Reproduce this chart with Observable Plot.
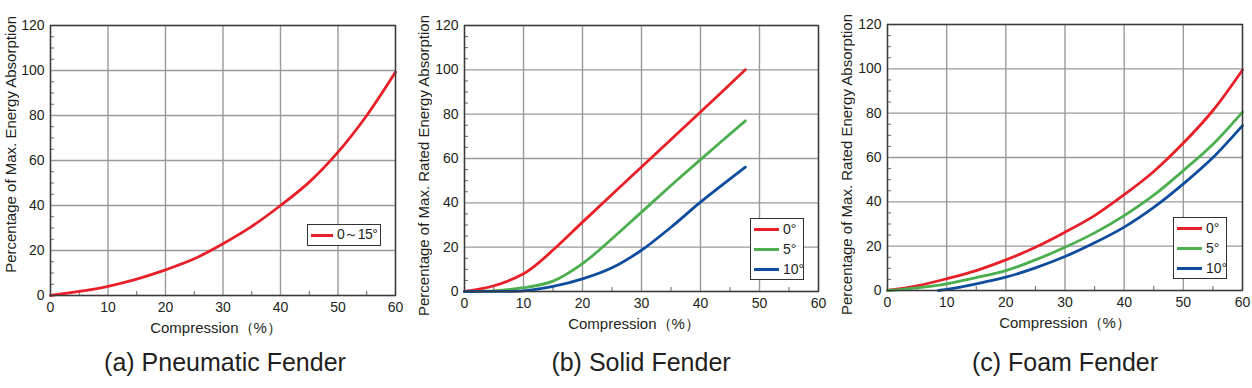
<!DOCTYPE html>
<html><head><meta charset="utf-8">
<script src="https://cdn.jsdelivr.net/npm/d3@7"></script>
<script src="https://cdn.jsdelivr.net/npm/@observablehq/plot@0.6"></script>
<style>
body{margin:0;background:#fff;font-family:"Liberation Sans",Arial,sans-serif;color:#231f20}
#wrap{position:relative;width:1252px;height:388px;overflow:hidden}
.panel{position:absolute;top:0}
.abs{position:absolute;white-space:nowrap;line-height:1}
.ylab{writing-mode:vertical-rl;transform:rotate(180deg);font-size:15px}
.xlab{font-size:15px;transform:translate(-50%,-50%)}
.title{font-size:25px;transform:translateX(-50%)}
.legend{position:absolute;border:1.5px solid #333;background:#fff;font-size:14px;box-sizing:border-box;padding:0 3px;white-space:nowrap}
.legend .row{display:flex;align-items:center;height:20px;white-space:nowrap}
.legend .sw{display:inline-block;flex:none;width:25px;height:3px;margin-right:4px}
</style>
</head><body>
<div id="wrap"></div>
<script>
// ---- data ----
const xTicks = [0, 10, 20, 30, 40, 50, 60];
const yTicks = [0, 20, 40, 60, 80, 100, 120];
const xMinor = [5, 15, 25, 35, 45, 55];
const yMinor = [5, 10, 15, 25, 30, 35, 45, 50, 55, 65, 70, 75, 85, 90, 95, 105, 110, 115];

const titles = ["(a) Pneumatic Fender", "(b) Solid Fender", "(c) Foam Fender"];
const yLabels = ["Percentage of Max. Energy Absorption", "Percentage of Max. Rated Energy Absorption", "Percentage of Max. Rated Energy Absorption"];
const xLabel = "Compression（%）";

const pneumaticX = [0, 5, 10, 15, 20, 25, 30, 35, 40, 45, 50, 55, 60];
const pneumaticY = [0, 1.8, 4.1, 7.3, 11.4, 16.3, 23, 30.7, 40, 50.4, 63.7, 80, 99.3];

const solidX0 = [0, 5, 10, 12.5, 15, 20, 25, 30, 35, 40, 47.6];
const solid0 = [0, 2.6, 8, 12.8, 18.7, 31.3, 43.8, 56.2, 68.6, 81, 100];
const solidX5 = [0, 5, 10, 15, 20, 25, 30, 35, 40, 47.6];
const solid5 = [0, 0.3, 1.7, 4.7, 12.6, 23.8, 35.8, 47.8, 59.5, 77];
const solidX10 = [0, 5, 10, 15, 20, 25, 30, 35, 40, 47.6];
const solid10 = [0, 0.05, 0.3, 2.3, 5.7, 10.7, 18.6, 29, 40.3, 56.1];

const foamX = [0, 5, 10, 15, 20, 25, 30, 35, 40, 45, 50, 55, 60];
const foam0 = [0, 2.1, 5.3, 9, 13.8, 19.5, 26.3, 33.8, 43.2, 53.7, 66.5, 81.2, 99.5];
const foam5 = [0, 1.2, 3, 5.8, 9, 13.8, 19.5, 26, 33.8, 43, 54.1, 66, 80.5];
const foamX10 = [8.6, 10, 15, 20, 25, 30, 35, 40, 45, 50, 55, 60];
const foam10 = [0, 0.5, 3, 6, 10.2, 15.3, 21.5, 28.6, 37.5, 48.1, 60, 74.4];

const legendNames = [["0～15°"], ["0°", "5°", "10°"], ["0°", "5°", "10°"]];
const colors = ["#e8202a", "#4bae4f", "#0e4c9e"];

const panels = [
  {left: 0, width: 407, ml: 50, mr: 12, mt: 25, mb: 45,
   series: [{x: pneumaticX, y: pneumaticY}],
   legend: {left: 307, top: 224, w: 74, h: 22},
   ylab: {cx: 10, top: 16}, xlab: {cx: 216, cy: 327}, title: {cx: 225, top: 350}},
  {left: 410, width: 420, ml: 54, mr: 12, mt: 25, mb: 49,
   series: [{x: solidX0, y: solid0}, {x: solidX5, y: solid5}, {x: solidX10, y: solid10}],
   legend: {left: 750, top: 218, w: 54, h: 62},
   ylab: {cx: 423, top: 15}, xlab: {cx: 634, cy: 323}, title: {cx: 641, top: 350}},
  {left: 835, width: 417, ml: 52, mr: 10, mt: 24, mb: 50,
   series: [{x: foamX, y: foam0}, {x: foamX, y: foam5}, {x: foamX10, y: foam10}],
   legend: {left: 1173, top: 217, w: 54, h: 62},
   ylab: {cx: 846, top: 14}, xlab: {cx: 1065, cy: 322}, title: {cx: 1065, top: 350}}
];

const wrap = document.getElementById("wrap");

panels.forEach((p, pi) => {
  const lines = p.series.map((s, si) => {
    const rows = s.x.map((x, i) => ({x, y: s.y[i]}));
    return Plot.line(rows, {x: "x", y: "y", stroke: colors[si], strokeWidth: 2.8, curve: "catmull-rom"});
  });
  const chart = Plot.plot({
    width: p.width, height: 340,
    marginLeft: p.ml, marginRight: p.mr, marginTop: p.mt, marginBottom: p.mb,
    style: {fontFamily: "'Liberation Sans', Arial, sans-serif", fontSize: "14px", color: "#231f20", background: "transparent"},
    x: {domain: [0, 60]},
    y: {domain: [0, 120]},
    marks: [
      Plot.gridX(xTicks, {stroke: "#9a9a9a", strokeOpacity: 1, strokeWidth: 1.4}),
      Plot.gridY(yTicks, {stroke: "#9a9a9a", strokeOpacity: 1, strokeWidth: 1.4}),
      Plot.ruleX(xMinor, {x: d => d, y1: 0, y2: 0, insetTop: -4, stroke: "#666", strokeWidth: 1}),
      Plot.ruleY(yMinor, {y: d => d, x1: 0, x2: 0, insetRight: -4, stroke: "#666", strokeWidth: 1}),
      ...lines,
      Plot.frame({stroke: "#3a3a3a", strokeWidth: 1.4}),
      Plot.axisX(xTicks, {tickSize: 0, tickPadding: 7, label: null, fontSize: 14}),
      Plot.axisY(yTicks, {tickSize: 0, tickPadding: 6, label: null, fontSize: 14})
    ]
  });
  const div = document.createElement("div");
  div.className = "panel";
  div.style.left = p.left + "px";
  div.appendChild(chart);
  wrap.appendChild(div);

  const yl = document.createElement("div");
  yl.className = "abs ylab";
  yl.textContent = yLabels[pi];
  wrap.appendChild(yl);
  yl.style.left = (p.ylab.cx - yl.offsetWidth / 2) + "px";
  yl.style.top = p.ylab.top + "px";

  const xl = document.createElement("div");
  xl.className = "abs xlab";
  xl.textContent = xLabel;
  xl.style.left = p.xlab.cx + "px";
  xl.style.top = p.xlab.cy + "px";
  wrap.appendChild(xl);

  const t = document.createElement("div");
  t.className = "abs title";
  t.textContent = titles[pi];
  t.style.left = p.title.cx + "px";
  t.style.top = p.title.top + "px";
  wrap.appendChild(t);

  const lg = document.createElement("div");
  lg.className = "legend";
  lg.style.left = p.legend.left + "px";
  lg.style.top = p.legend.top + "px";
  lg.style.width = p.legend.w + "px";
  lg.style.height = p.legend.h + "px";
  lg.style.display = "flex";
  lg.style.flexDirection = "column";
  lg.style.justifyContent = "center";
  legendNames[pi].forEach((name, i) => {
    const r = document.createElement("div");
    r.className = "row";
    const sw = document.createElement("span");
    sw.className = "sw";
    sw.style.background = colors[i];
    if (pi === 0) { sw.style.width = "22px"; sw.style.marginRight = "4px"; }
    const tx = document.createElement("span");
    tx.textContent = name;
    if (pi === 0) tx.style.letterSpacing = "-0.5px";
    r.appendChild(sw); r.appendChild(tx);
    lg.appendChild(r);
  });
  wrap.appendChild(lg);
});
</script>
</body></html>
